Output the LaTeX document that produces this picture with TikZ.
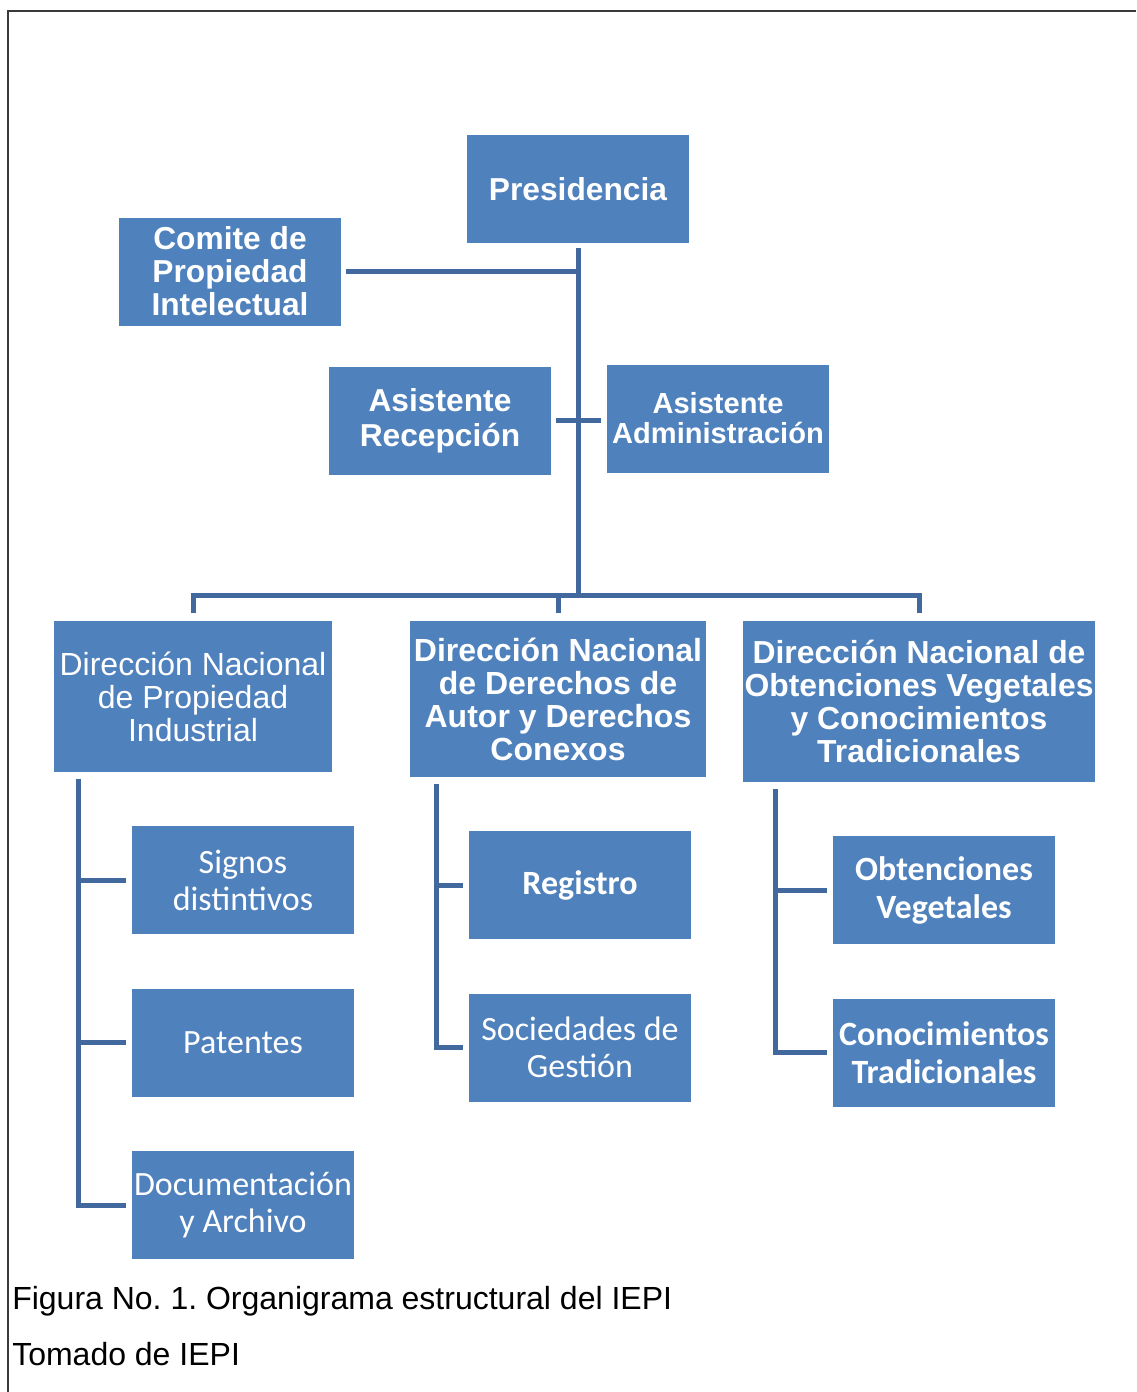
\documentclass[tikz,border=0pt]{standalone}
\usepackage{fontspec}
\setmainfont{Liberation Sans}
\newfontfamily\carlito{Carlito}
\usetikzlibrary{positioning}
\definecolor{unitfill}{HTML}{4F81BD}
\definecolor{linkblue}{HTML}{41699D}
\definecolor{framegray}{HTML}{3A3A3A}
\frenchspacing
\tikzset{
  orgbox/.style={fill=unitfill,text=white,align=center,inner sep=0pt,minimum width=166.5pt,minimum height=81pt},
  boldbox/.style={orgbox,font=\bfseries\fontsize{23.8}{24.75}\selectfont},
  calbox/.style={orgbox,font=\carlito\fontsize{25.5}{27.75}\selectfont},
  calboldbox/.style={orgbox,font=\carlito\bfseries\fontsize{25.5}{28.5}\selectfont},
  dirbox/.style={anchor=north},
  link/.style={draw=linkblue,line width=3.75pt},
  frameline/.style={draw=framegray,line width=1.5pt},
  caption/.style={anchor=base west,inner sep=0pt,font=\fontsize{24}{28}\selectfont},
}
\begin{document}
\begin{tikzpicture}[x=0.75pt,y=-0.75pt]
\useasboundingbox (0,0) rectangle (1136,1392);
\draw[frameline] (8,1392) -- (8,11) -- (1136,11);

\node[boldbox] (pres) at (578,189) {Presidencia};
\node[boldbox] (comite) at (230,271.5) {Comite de\\Propiedad\\Intelectual};
\node[boldbox,font=\bfseries\fontsize{23.8}{26}\selectfont] (recep) at (440,420.5) {Asistente\\Recepción};
\node[boldbox,font=\bfseries\fontsize{21.8}{22.5}\selectfont] (admin) at (718,418.5) {Asistente\\Administración};

\node[orgbox,dirbox,minimum width=208.5pt,minimum height=113.25pt,font=\fontsize{24}{25}\selectfont] (dnpi) at (193,621) {Dirección Nacional\\de Propiedad\\Industrial};
\node[boldbox,dirbox,minimum width=222pt,minimum height=117pt,font=\bfseries\fontsize{24}{24.75}\selectfont] (dnda) at (558,621) {Dirección Nacional\\de Derechos de\\Autor y Derechos\\Conexos};
\node[boldbox,dirbox,minimum width=264pt,minimum height=120.75pt,font=\bfseries\fontsize{23.9}{24.75}\selectfont] (dnov) at (919,621) {Dirección Nacional de\\Obtenciones Vegetales\\y Conocimientos\\Tradicionales};

\node[calbox] (signos) at (243,880) {Signos\\distintivos};
\node[calbox,below=40.5pt of signos] (patentes) {Patentes};
\node[calbox,below=40.5pt of patentes] (docu) {Documentación\\y Archivo};

\node[calboldbox] (registro) at (580,885) {Registro};
\node[calbox,below=40.5pt of registro] (socied) {Sociedades de\\Gestión};

\node[calboldbox] (obten) at (944,890) {Obtenciones\\Vegetales};
\node[calboldbox,below=40.5pt of obten] (conoc) {Conocimientos\\Tradicionales};

\coordinate (bus) at (578,595);
\draw[link] ([yshift=-3.75pt]pres.south) -- (bus);
\draw[link] ([xshift=3.75pt]comite.east) -- (comite.east -| pres.south);
\draw[link] ([xshift=3.75pt]recep.east) -- ([xshift=-4.5pt]recep.east -| admin.west);
\draw[link] ([yshift=6pt]dnpi.north) |- (bus) -| ([yshift=6pt]dnov.north);
\draw[link] ([yshift=6pt]dnda.north) -- (dnda.north |- bus);

\coordinate (lspine) at ([xshift=18.75pt,yshift=-4.5pt]dnpi.south west);
\coordinate (mspine) at ([xshift=20.25pt,yshift=-4.5pt]dnda.south west);
\coordinate (rspine) at ([xshift=24.75pt,yshift=-4.5pt]dnov.south west);
\draw[link] (lspine) |- ([xshift=-4.5pt]docu.west);
\foreach \kid in {signos,patentes}
  \draw[link] (lspine |- \kid.west) -- ([xshift=-4.5pt]\kid.west);
\draw[link] (mspine) |- ([xshift=-4.5pt]socied.west);
\draw[link] (mspine |- registro.west) -- ([xshift=-4.5pt]registro.west);
\draw[link] (rspine) |- ([xshift=-4.5pt]conoc.west);
\draw[link] (rspine |- obten.west) -- ([xshift=-4.5pt]obten.west);

\node[caption] (fig) at (12,1309) {Figura No. 1. Organigrama estructural del IEPI};
\node[caption] (src) at (12,1365) {Tomado de IEPI};
\end{tikzpicture}
\end{document}
